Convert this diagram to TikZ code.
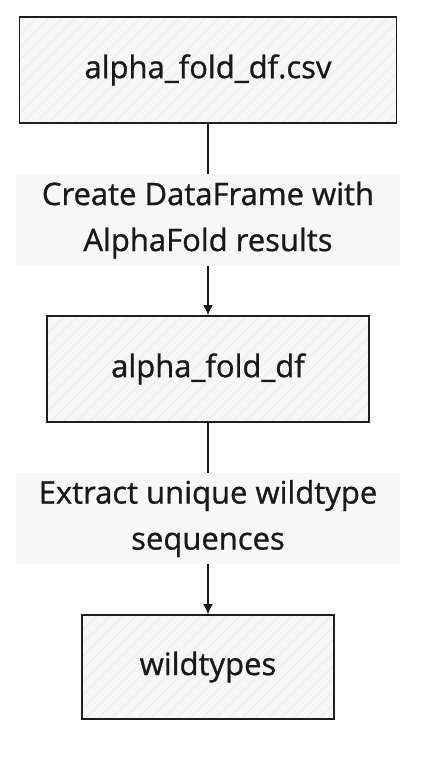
\documentclass[tikz,border=0pt]{standalone}
\usepackage{fontspec}
\setmainfont{Open Sans}[FakeBold=1]
\newfontfamily\diagfont{Open Sans}[FakeBold=0.9,AutoFakeBold=0.9]
\usetikzlibrary{arrows.meta}
\begin{document}
\begin{tikzpicture}[x=1pt,y=-1pt,
  box/.style={draw=black!88,line width=1.7pt,fill=black!3,inner sep=0pt,
    font=\diagfont\fontsize{31}{46}\selectfont\bfseries,text=black!90,
    path picture={\foreach \i in {-140,-127,...,420}{\draw[black!9,line width=0.5pt]
      ([xshift=\i pt]path picture bounding box.south west) -- ++(130pt,130pt);}}},
  lbl/.style={fill=black!3,inner sep=0pt,minimum width=384pt,align=center,
    font=\diagfont\fontsize{31}{46}\selectfont\bfseries,text=black!90},
  conn/.style={draw=black!90,line width=1.3pt},
  arr/.style={conn,-{Latex[length=10pt,width=10pt]}}]
\useasboundingbox (0,0) rectangle (432,766);
\node[box,minimum width=377pt,minimum height=106pt] (b1) at (208,70) {alpha\_fold\_df.csv};
\node[lbl,minimum height=92pt] (l1) at (208,220) {Create DataFrame with\\AlphaFold results};
\node[box,minimum width=322pt,minimum height=106pt] (b2) at (208,369) {alpha\_fold\_df};
\node[lbl,minimum height=91pt] (l2) at (208,518.5) {Extract unique wildtype\\sequences};
\node[box,minimum width=252pt,minimum height=104pt] (b3) at (208,667) {wildtypes};
\draw[conn] (b1.south) -- (l1.north);
\draw[arr] (l1.south) -- (b2.north);
\draw[conn] (b2.south) -- (l2.north);
\draw[arr] (l2.south) -- (b3.north);
\end{tikzpicture}
\end{document}
